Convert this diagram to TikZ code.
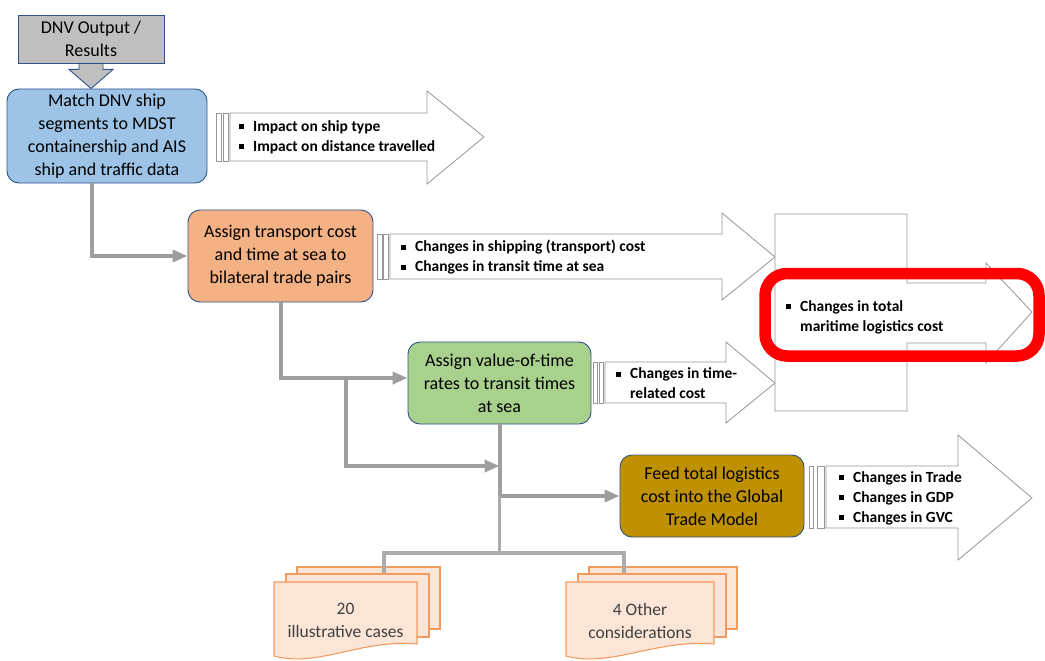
\documentclass[tikz,border=0pt]{standalone}
\usepackage{fontspec}
\setmainfont{Carlito}
\usetikzlibrary{arrows.meta,calc}
\definecolor{bordblue}{RGB}{47,82,143}
\definecolor{gboxc}{RGB}{191,191,191}
\definecolor{bboxc}{RGB}{157,195,230}
\definecolor{oboxc}{RGB}{244,177,131}
\definecolor{grboxc}{RGB}{169,209,142}
\definecolor{gdboxc}{RGB}{191,144,0}
\definecolor{arrline}{RGB}{150,150,150}
\definecolor{conncol}{RGB}{158,158,158}
\definecolor{connlight}{RGB}{172,172,172}
\definecolor{docfill}{RGB}{251,229,214}
\definecolor{docline}{RGB}{242,155,95}
\definecolor{doctext}{RGB}{64,64,64}
\newcommand\sqbul{\rule[0.12em]{0.32em}{0.32em}}
\newcommand\bi{\sqbul\hspace{9pt}}
\newcommand\bh{\phantom{\sqbul}\hspace{9pt}}
\newcommand\docstack[3]{%
  \filldraw[docpage] (#1+23,#2-15) rectangle (#1+23+#3,#2+47);
  \filldraw[docpage] (#1+12,#2-8) rectangle (#1+12+#3,#2+55);
  \filldraw[docpage] (#1,#2) -- (#1+#3,#2) -- (#1+#3,#2+62)
     .. controls (#1+0.6*#3,#2+57) and (#1+0.31*#3,#2+86) .. (#1,#2+74) -- cycle;
}
\begin{document}
\begin{tikzpicture}[x=1pt,y=-1pt,
  box/.style={draw=bordblue, line width=0.9pt, rounded corners=12pt, align=center,
     font=\fontsize{18}{23}\selectfont, inner sep=0pt},
  blk/.style={draw=arrline, fill=white, line width=0.8pt},
  bul/.style={anchor=west, align=left, inner sep=0pt, font=\fontsize{15.5}{20}\selectfont\bfseries},
  conn/.style={draw=conncol, line width=4pt, -{Triangle[length=15pt,width=12pt]}},
  connl/.style={draw=connlight, line width=3.5pt},
  docpage/.style={fill=docfill, draw=docline, line width=1.1pt},
  doctxt/.style={align=center, text=doctext, font=\fontsize{17.5}{23}\selectfont, inner sep=0pt}]
\useasboundingbox (0,0) rectangle (1045,661);

% boxes
\node[box, fill=gboxc, rounded corners=0pt, minimum width=146pt, minimum height=48pt] (dnv) at (91,39) {DNV Output /\\Results};
\node[box, fill=bboxc, minimum width=200pt, minimum height=94pt] (b1) at (107,136) {Match DNV ship\\segments to MDST\\containership and AIS\\ship and traffic data};
\node[box, fill=oboxc, minimum width=185pt, minimum height=92pt] (b2) at (280.5,256) {Assign transport cost\\and time at sea to\\bilateral trade pairs};
\node[box, fill=grboxc, minimum width=183pt, minimum height=82pt] (b3) at (499.5,383) {Assign value-of-time\\rates to transit times\\at sea};
\node[box, fill=gdboxc, minimum width=184pt, minimum height=82pt] (b4) at (712,496) {Feed total logistics\\cost into the Global\\Trade Model};

% down arrow from DNV box
\filldraw[fill=gboxc, draw=bordblue, line width=0.9pt]
  ($(dnv.south)+(-12,0)$) -- ($(dnv.south)+(12,0)$) -- ($(dnv.south)+(12,6)$) -- ($(dnv.south)+(22,6)$)
  -- (b1.north -| dnv.south) -- ($(dnv.south)+(-22,6)$) -- ($(dnv.south)+(-12,6)$) -- cycle;

% block arrows
\filldraw[blk] (216,113) rectangle (221,161);
\filldraw[blk] (223,113) rectangle (228,161);
\filldraw[blk] (230,113) -- (427,113) -- (427,91) -- (484,137) -- (427,184) -- (427,161) -- (230,161) -- cycle;
\node[bul] (t1) at (239,137) {\bi Impact on ship type\\\bi Impact on distance travelled};

\filldraw[blk] (377,234) rectangle (382,279);
\filldraw[blk] (383,234) rectangle (388,279);
\filldraw[blk] (390,234) -- (722,234) -- (722,213) -- (775,257) -- (722,300) -- (722,279) -- (390,279) -- cycle;
\node[bul] (t2) at (401,257) {\bi Changes in shipping (transport) cost\\\bi Changes in transit time at sea};

\filldraw[blk] (593,362) rectangle (597,403);
\filldraw[blk] (599,362) rectangle (603,403);
\filldraw[blk] (605,362) -- (726,362) -- (726,342) -- (775,383) -- (726,423) -- (726,403) -- (605,403) -- cycle;
\node[bul] (t3) at (616,383) {\bi Changes in time-\\\bh related cost};

\filldraw[blk] (809,466) rectangle (813,528);
\filldraw[blk] (817,466) rectangle (824,528);
\filldraw[blk] (826,466) -- (958,466) -- (958,435) -- (1032,498) -- (958,560) -- (958,528) -- (826,528) -- cycle;
\node[bul] (t4) at (839,498) {\bi Changes in Trade\\\bi Changes in GDP\\\bi Changes in GVC};

\filldraw[blk] (775,214) -- (907,214) -- (907,283) -- (986,283) -- (986,263) -- (1032,312) -- (986,363) -- (986,343) -- (907,343) -- (907,411) -- (775,411) -- cycle;
\node[bul] (tot) at (786,317) {\bi Changes in total\\\bh maritime logistics cost};

% documents
\docstack{274}{582}{143}
\docstack{566}{582}{148}
\node[doctxt] (doc1) at (345.5,620.5) {20\\illustrative cases};
\node[doctxt] (doc2) at (640,620.5) {4 Other\\considerations};

% connectors
\coordinate (j1) at (346,378);
\coordinate (j2) at (b3.south |- 0,466);
\coordinate (j3) at (b3.south |- b4.west);
\coordinate (jd) at (b3.south |- 0,553);
\coordinate (d1) at (384,573);
\coordinate (d2) at (624,573);
\draw[connl] (j3) -- (jd);
\draw[connl] (d1) |- (jd) -| (d2);
\draw[conn] ($(b1.south)+(-15,0)$) |- (b2.west);
\draw[conn] (b2.south) |- ($(b3.west)+(0,-5)$);
\draw[conn] (j1) |- (j2);
\draw[draw=conncol, line width=4pt] (b3.south) -- (j3);
\draw[conn] (j3) -- (b4.west);

% highlight
\draw[red, line width=11.5pt, rounded corners=22pt] (765,273.5) rectangle (1039,356);
\end{tikzpicture}
\end{document}
